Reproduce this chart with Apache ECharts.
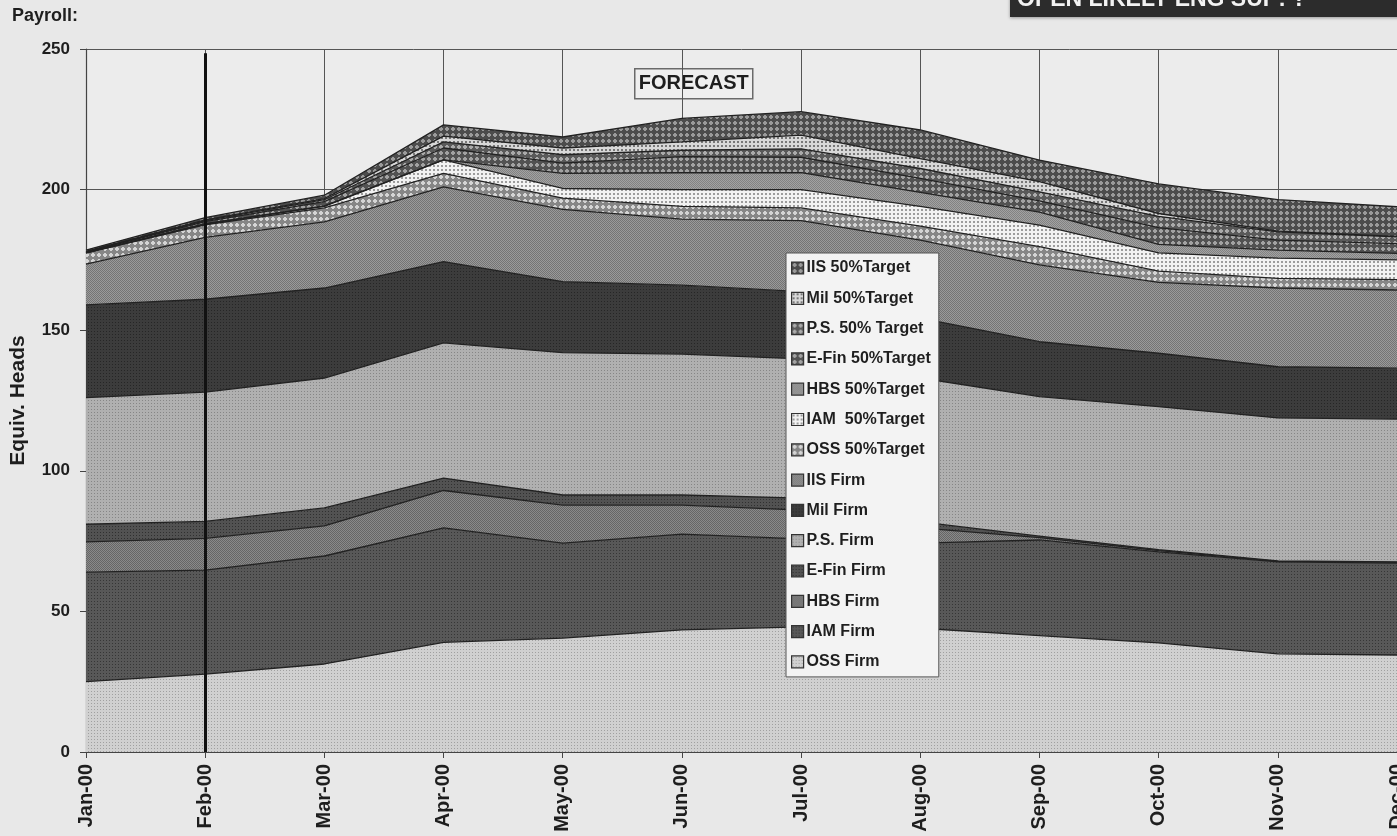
<!DOCTYPE html>
<html>
<head>
<meta charset="utf-8">
<title>Payroll – Equiv. Heads</title>
<script src="https://cdn.jsdelivr.net/npm/echarts@6/dist/echarts.min.js"></script>
<style>
  html, body { margin: 0; padding: 0; background: #e8e8e8; overflow: hidden; }
  #chart { width: 1397px; height: 836px; }
</style>
</head>
<body>
<div id="chart"></div>
<script>
// Months on the category axis
const months = ['Jan-00', 'Feb-00', 'Mar-00', 'Apr-00', 'May-00', 'Jun-00',
                'Jul-00', 'Aug-00', 'Sep-00', 'Oct-00', 'Nov-00', 'Dec-00'];

// Firm headcount by group (stacked from the bottom)
const ossFirm  = [25, 27.7, 31.3, 39, 40.5, 43.4, 44.5, 44, 41.4, 38.8, 34.9, 34.5];
const iamFirm  = [39, 37, 38.4, 40.7, 33.8, 34.1, 31.3, 30.3, 34, 32.4, 32.7, 32.7];
const hbsFirm  = [10.7, 11.3, 10.7, 13.3, 13.5, 10.3, 10.2, 5.4, 0.8, 0.4, 0.2, 0.2];
const efinFirm = [6.3, 6, 6.4, 4.4, 3.6, 3.6, 4.3, 2.1, 0.6, 0.4, 0.2, 0.2];
const psFirm   = [45, 46, 46.2, 48.1, 50.6, 50.1, 49.5, 51.2, 49.6, 50.8, 50.8, 50.8];
const milFirm  = [33, 33, 32, 28.9, 25.3, 24.5, 23.9, 21.3, 19.5, 19, 18.2, 18.1];
const iisFirm  = [14.5, 22, 23.5, 26.6, 25.7, 23.5, 25.3, 27.7, 27.3, 25.2, 28, 27.8];

// 50% target headcount by group
const oss50  = [4, 4.5, 5, 4.8, 4, 4.5, 4.5, 5, 6.5, 4, 3.4, 3.7];
const iam50  = [0, 0.2, 0.5, 4.8, 3.4, 6, 6.5, 7, 7.7, 6.5, 7.2, 7];
const hbs50  = [0, 0.2, 0.2, 0, 5.4, 6, 6, 5, 4.6, 3, 2.9, 2.3];
const efin50 = [0.3, 0.7, 1.5, 4.2, 3.6, 5.7, 5.5, 5, 4, 6, 3.5, 3.5];
const ps50   = [0.1, 0.4, 0.7, 2.2, 3, 2.3, 3, 3.5, 3.2, 4, 3, 2.4];
const mil50  = [0.1, 0.2, 0.4, 2, 2.4, 3, 4.9, 3.5, 3.6, 1, 0.2, 0.2];
const iis50  = [0.5, 0.8, 1.2, 4, 3.9, 8.3, 8.3, 10.2, 7.7, 10.5, 11.2, 10.5];

// Value axis ticks
const yTicks = { min: 0, max: 250, interval: 50 };

// Month where the actuals end and the forecast begins
const cutoverMonth = 'Feb-00';
const cutoverTop = 248.5;

const FONT = "'Liberation Sans', Arial, Helvetica, sans-serif";

// Small repeating tiles that give each band its halftone fill
function tile(size, bg, fg, cells) {
  const c = document.createElement('canvas');
  c.width = size; c.height = size;
  const g = c.getContext('2d');
  g.fillStyle = bg; g.fillRect(0, 0, size, size);
  g.fillStyle = fg;
  cells.forEach(p => g.fillRect(p[0], p[1], 1, 1));
  return { image: c, repeat: 'repeat' };
}
const FINE = [[1, 1]];
const CHECK = [[0, 0], [1, 1]];
const DIAMOND = [[2, 1], [3, 1], [1, 2], [2, 2], [3, 2], [4, 2], [1, 3], [2, 3], [3, 3], [4, 3], [2, 4], [3, 4]];
const DOTS = [[1, 1], [2, 1], [1, 2], [2, 2]];

const fills = {
  ossFirm:  tile(3, '#d0d0d0', '#a0a0a0', FINE),
  iamFirm:  tile(3, '#585858', '#363636', FINE),
  hbsFirm:  tile(2, '#8a8a8a', '#666666', CHECK),
  efinFirm: tile(3, '#525252', '#303030', FINE),
  psFirm:   tile(3, '#b0b0b0', '#868686', FINE),
  milFirm:  tile(3, '#3c3c3c', '#262626', FINE),
  iisFirm:  tile(2, '#9a9a9a', '#747474', CHECK),
  oss50:    tile(6, '#868686', '#d4d4d4', DIAMOND),
  iam50:    tile(4, '#f2f2f2', '#9c9c9c', DOTS),
  hbs50:    tile(2, '#a2a2a2', '#828282', CHECK),
  efin50:   tile(6, '#525252', '#a2a2a2', DIAMOND),
  ps50:     tile(6, '#5a5a5a', '#aaaaaa', DIAMOND),
  mil50:    tile(4, '#d8d8d8', '#787878', DOTS),
  iis50:    tile(6, '#4c4c4c', '#9a9a9a', DIAMOND)
};

const layers = [
  ['OSS Firm', ossFirm, fills.ossFirm],
  ['IAM Firm', iamFirm, fills.iamFirm],
  ['HBS Firm', hbsFirm, fills.hbsFirm],
  ['E-Fin Firm', efinFirm, fills.efinFirm],
  ['P.S. Firm', psFirm, fills.psFirm],
  ['Mil Firm', milFirm, fills.milFirm],
  ['IIS Firm', iisFirm, fills.iisFirm],
  ['OSS 50%Target', oss50, fills.oss50],
  ['IAM  50%Target', iam50, fills.iam50],
  ['HBS 50%Target', hbs50, fills.hbs50],
  ['E-Fin 50%Target', efin50, fills.efin50],
  ['P.S. 50% Target', ps50, fills.ps50],
  ['Mil 50%Target', mil50, fills.mil50],
  ['IIS 50%Target', iis50, fills.iis50]
];

const series = layers.map(([name, values, fill]) => ({
  name: name,
  type: 'line',
  stack: 'heads',
  data: values,
  symbol: 'none',
  smooth: false,
  lineStyle: { color: '#222222', width: 1.3 },
  itemStyle: { color: fill },
  areaStyle: { color: fill, opacity: 1 },
  emphasis: { disabled: true },
  z: 2
}));

// Actual / forecast divider
series.push({
  type: 'line',
  data: [],
  silent: true,
  markLine: {
    symbol: 'none',
    silent: true,
    label: { show: false },
    lineStyle: { color: '#111111', width: 3, type: 'solid' },
    data: [[{ coord: [cutoverMonth, 0] }, { coord: [cutoverMonth, cutoverTop] }]]
  },
  z: 5
});

const chart = echarts.init(document.getElementById('chart'), null, { renderer: 'canvas' });

chart.setOption({
  animation: false,
  backgroundColor: '#e8e8e8',
  textStyle: { fontFamily: FONT },
  grid: {
    left: 86, right: 0, top: 49, bottom: 84,
    containLabel: false,
    outerBoundsMode: 'none',
    show: true, backgroundColor: '#ececec', borderWidth: 0
  },
  legend: {
    orient: 'vertical',
    left: 786, top: 253,
    width: 157,
    padding: [6, 8, 6, 5],
    itemGap: 12.3,
    itemWidth: 12, itemHeight: 12,
    icon: 'rect',
    backgroundColor: '#f3f3f3',
    borderColor: '#555555',
    borderWidth: 1,
    itemStyle: { borderColor: '#333333', borderWidth: 1.2 },
    textStyle: { fontFamily: FONT, fontSize: 16, fontWeight: 'bold', color: '#1e1e1e', lineHeight: 18, padding: [0, 0, 0, -2] },
    data: layers.map(l => l[0]).reverse()
  },
  xAxis: {
    type: 'category',
    data: months,
    boundaryGap: false,
    axisLine: { lineStyle: { color: '#444444', width: 1.2 } },
    axisTick: { show: true, length: 6, lineStyle: { color: '#444444' } },
    splitLine: { show: true, lineStyle: { color: '#555555', width: 1 } },
    axisLabel: {
      rotate: 90, margin: 12, interval: 0,
      fontFamily: FONT, fontSize: 20, fontWeight: 'bold', color: '#1e1e1e'
    }
  },
  yAxis: {
    type: 'value',
    min: yTicks.min, max: yTicks.max, interval: yTicks.interval,
    name: 'Equiv. Heads',
    nameLocation: 'middle',
    nameGap: 57,
    nameTextStyle: { fontFamily: FONT, fontSize: 21, fontWeight: 'bold', color: '#1e1e1e' },
    axisLine: { show: true, lineStyle: { color: '#444444', width: 1.2 } },
    axisTick: { show: true, length: 6, lineStyle: { color: '#444444' } },
    splitLine: { show: true, lineStyle: { color: '#555555', width: 1 } },
    axisLabel: {
      margin: 16,
      fontFamily: FONT, fontSize: 17, fontWeight: 'bold', color: '#1e1e1e'
    }
  },
  graphic: [
    {
      type: 'text', left: 12, top: 7, z: 10,
      style: { text: 'Payroll:', fontFamily: FONT, fontSize: 18, fontWeight: 'bold', fill: '#1e1e1e' }
    },
    {
      type: 'group', left: 634, top: 68, z: 10,
      children: [
        { type: 'rect', shape: { x: 0, y: 0, width: 118, height: 30 },
          style: { fill: '#efefef', stroke: '#6a6a6a', lineWidth: 1.5 } },
        { type: 'text', x: 59, y: 15,
          style: { text: 'FORECAST', fontFamily: FONT, fontSize: 20, fontWeight: 'bold',
                   fill: '#1e1e1e', align: 'center', verticalAlign: 'middle' } }
      ]
    },
    {
      type: 'group', left: 1010, top: -22, z: 10,
      children: [
        { type: 'rect', shape: { x: 0, y: 0, width: 400, height: 39 },
          style: { fill: '#2c2c2c', shadowColor: 'rgba(0,0,0,0.35)', shadowBlur: 3, shadowOffsetY: 1 } },
        { type: 'text', x: 7, y: 22,
          style: { text: 'OPEN LIKELY ENG SUP: ?', fontFamily: FONT, fontSize: 23, fontWeight: 'bold',
                   fill: '#f2f2f2', align: 'left', verticalAlign: 'middle' } }
      ]
    }
  ],
  series: series
});
</script>
</body>
</html>
